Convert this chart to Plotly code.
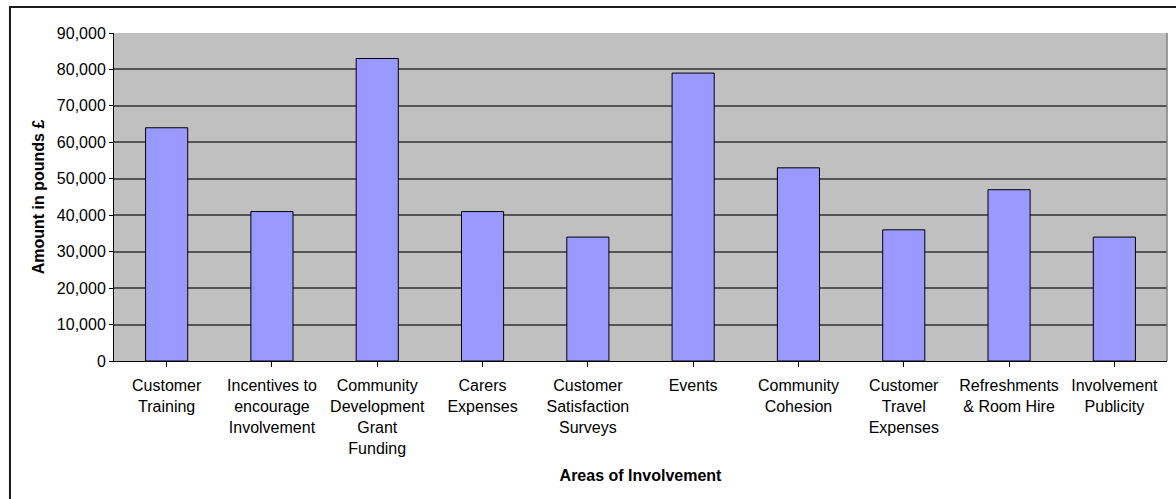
import plotly.graph_objects as go

categories = [
    "Customer<br>Training",
    "Incentives to<br>encourage<br>Involvement",
    "Community<br>Development<br>Grant<br>Funding",
    "Carers<br>Expenses",
    "Customer<br>Satisfaction<br>Surveys",
    "Events",
    "Community<br>Cohesion",
    "Customer<br>Travel<br>Expenses",
    "Refreshments<br>& Room Hire",
    "Involvement<br>Publicity",
]
amounts = [64000, 41000, 83000, 41000, 34000, 79000, 53000, 36000, 47000, 34000]
y_ticks = [0, 10000, 20000, 30000, 40000, 50000, 60000, 70000, 80000, 90000]

FONT = "Liberation Sans, Arial, sans-serif"

fig = go.Figure(
    go.Bar(
        x=list(range(len(categories))),
        y=amounts,
        marker=dict(color="#9999FF", line=dict(color="#000000", width=1)),
        width=0.4,
    )
)

fig.update_layout(
    width=1176,
    height=499,
    margin=dict(l=114, r=9, t=33, b=138),
    paper_bgcolor="#FFFFFF",
    plot_bgcolor="#C0C0C0",
    font=dict(family=FONT, size=16, color="#000000"),
    showlegend=False,
    shapes=[
        dict(
            type="rect", xref="paper", yref="paper",
            x0=-0.0988, x1=1.02, y0=-0.45, y1=1.0793,
            line=dict(color="#1a1a1a", width=2), layer="below",
        ),
        dict(
            type="line", xref="paper", yref="paper",
            x0=1, x1=1, y0=0, y1=1,
            line=dict(color="#808080", width=1.5),
        ),
    ],
)

fig.update_xaxes(
    tickmode="array",
    tickvals=list(range(len(categories))),
    ticktext=categories,
    range=[-0.5, len(categories) - 0.5],
    tickson="boundaries",
    ticks="outside",
    ticklen=5,
    tickcolor="#000000",
    showline=True,
    linecolor="#000000",
    linewidth=1,
    showgrid=False,
    ticklabelstandoff=5,
    tickfont=dict(size=16, family=FONT),
    title=dict(text="<b>Areas of Involvement</b>", font=dict(size=16, family=FONT), standoff=14),
)

fig.update_yaxes(
    range=[0, 90000],
    tickmode="array",
    tickvals=y_ticks,
    tickformat=",",
    ticks="outside",
    ticklen=4,
    tickcolor="#000000",
    showline=True,
    linecolor="#000000",
    linewidth=1,
    showgrid=True,
    gridcolor="#555555",
    gridwidth=1.5,
    zeroline=False,
    tickfont=dict(size=16, family=FONT),
    title=dict(text="<b>Amount in pounds £</b>", font=dict(size=16, family=FONT), standoff=8),
)

fig.write_html("out.html")
